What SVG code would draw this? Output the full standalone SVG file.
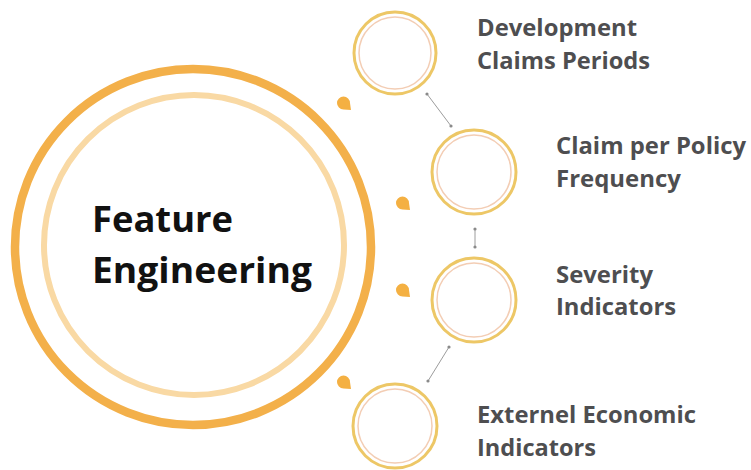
<svg xmlns="http://www.w3.org/2000/svg" width="751" height="470" viewBox="0 0 751 470">
  <defs>
    <style>
      .big-outer { fill: none; stroke: #F3B04A; stroke-width: 8.5; }
      .big-inner { fill: none; stroke: #F9D9A4; stroke-width: 6; }
      .ring-outer { fill: #ffffff; stroke: #EDC766; stroke-width: 3; }
      .ring-inner { fill: none; stroke: #F3CDB4; stroke-width: 1.5; }
      .drop { fill: #F4B042; }
      .title { font-family: "Open Sans", "Liberation Sans", sans-serif; font-weight: 700; font-size: 36px; fill: #111111; }
      .label { font-family: "Open Sans", "Liberation Sans", sans-serif; font-weight: 700; font-size: 23px; fill: #4e4e50; }
      .link { stroke: #9c9c9c; stroke-width: 1; fill: none; marker-start: url(#dot); marker-end: url(#dot); }
    </style>
    <marker id="dot" viewBox="0 0 4 4" refX="2" refY="2" markerWidth="4" markerHeight="4" markerUnits="userSpaceOnUse">
      <circle cx="2" cy="2" r="1.6" fill="#8a8a8a"/>
    </marker>
  </defs>

  <rect width="751" height="470" fill="#ffffff"/>

  <!-- central hub -->
  <g id="feature-engineering">
    <circle class="big-outer" cx="193" cy="247" r="178"/>
    <circle class="big-inner" cx="194" cy="245" r="150"/>
    <text class="title" x="92" y="232" textLength="141" lengthAdjust="spacingAndGlyphs">Feature</text>
    <text class="title" x="92" y="283" textLength="220" lengthAdjust="spacingAndGlyphs">Engineering</text>
  </g>

  <!-- small drop accents along the hub -->
  <g id="accents">
    <path class="drop" d="M337,103 A6.5,6.5 0 0 1 343.5,96.5 A6.5,6.5 0 0 1 350,103 L351,110 L343.5,109.5 A6.5,6.5 0 0 1 337,103 Z"/>
    <path class="drop" d="M396,203 A6.5,6.5 0 0 1 402.5,196.5 A6.5,6.5 0 0 1 409,203 L410,210 L402.5,209.5 A6.5,6.5 0 0 1 396,203 Z"/>
    <path class="drop" d="M396,290 A6.5,6.5 0 0 1 402.5,283.5 A6.5,6.5 0 0 1 409,290 L410,297 L402.5,296.5 A6.5,6.5 0 0 1 396,290 Z"/>
    <path class="drop" d="M337,382 A6.5,6.5 0 0 1 343.5,375.5 A6.5,6.5 0 0 1 350,382 L351,389 L343.5,388.5 A6.5,6.5 0 0 1 337,382 Z"/>
  </g>

  <!-- connectors between the satellite rings -->
  <g id="connectors">
    <line class="link" x1="427" y1="94" x2="451" y2="126"/>
    <line class="link" x1="475" y1="229" x2="475" y2="247"/>
    <line class="link" x1="449" y1="347" x2="428" y2="381"/>
  </g>

  <g id="development-claims-periods">
    <circle class="ring-outer" cx="395" cy="53" r="41"/>
    <circle class="ring-inner" cx="395" cy="53" r="36"/>
    <text class="label" x="477" y="36" textLength="160" lengthAdjust="spacingAndGlyphs">Development</text>
    <text class="label" x="477" y="69" textLength="173" lengthAdjust="spacingAndGlyphs">Claims Periods</text>
  </g>

  <g id="claim-per-policy-frequency">
    <circle class="ring-outer" cx="474" cy="172" r="42"/>
    <circle class="ring-inner" cx="474" cy="172" r="37"/>
    <text class="label" x="556" y="154" textLength="190" lengthAdjust="spacingAndGlyphs">Claim per Policy</text>
    <text class="label" x="556" y="187" textLength="125" lengthAdjust="spacingAndGlyphs">Frequency</text>
  </g>

  <g id="severity-indicators">
    <circle class="ring-outer" cx="474" cy="300" r="42"/>
    <circle class="ring-inner" cx="474" cy="300" r="37"/>
    <text class="label" x="556" y="283" textLength="97" lengthAdjust="spacingAndGlyphs">Severity</text>
    <text class="label" x="556" y="315" textLength="120" lengthAdjust="spacingAndGlyphs">Indicators</text>
  </g>

  <g id="externel-economic-indicators">
    <circle class="ring-outer" cx="395" cy="426" r="42"/>
    <circle class="ring-inner" cx="395" cy="426" r="37"/>
    <text class="label" x="477" y="423" textLength="219" lengthAdjust="spacingAndGlyphs">Externel Economic</text>
    <text class="label" x="477" y="456" textLength="119" lengthAdjust="spacingAndGlyphs">Indicators</text>
  </g>
</svg>
